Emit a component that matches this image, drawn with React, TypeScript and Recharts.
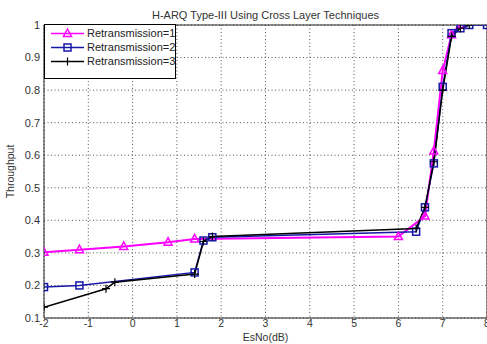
import React from 'react';
import { LineChart, Line, XAxis, YAxis, CartesianGrid, ReferenceLine, Legend } from 'recharts';

const snr1 = [-2, -1.2, -0.2, 0.8, 1.4, 6.0, 6.6, 6.8, 7.0, 7.2, 7.4];
const thr1 = [0.302, 0.31, 0.32, 0.333, 0.343, 0.35, 0.413, 0.613, 0.86, 0.97, 1.0];

const snr2 = [-2, -1.2, 1.4, 1.6, 1.8, 6.4, 6.6, 6.8, 7.0, 7.2, 7.4, 7.6, 8.0];
const thr2 = [0.195, 0.2, 0.24, 0.338, 0.348, 0.365, 0.44, 0.575, 0.81, 0.975, 0.99, 1.0, 1.0];

const snr3 = [-2, -0.6, -0.4, 1.4, 1.6, 1.8, 6.4, 6.6, 6.8, 7.0, 7.2, 7.4, 7.6];
const thr3 = [0.133, 0.19, 0.21, 0.235, 0.335, 0.35, 0.375, 0.44, 0.58, 0.8, 0.965, 0.99, 1.0];

const xTicks = [-2, -1, 0, 1, 2, 3, 4, 5, 6, 7, 8];
const yTicks = [0.1, 0.2, 0.3, 0.4, 0.5, 0.6, 0.7, 0.8, 0.9, 1];

const seriesNames = ['Retransmission=1', 'Retransmission=2', 'Retransmission=3'];
const title = 'H-ARQ Type-III Using Cross Layer Techniques';

const zip = (xs: number[], ys: number[]) => xs.map((x, i) => ({ x, y: ys[i] }));
const data1 = zip(snr1, thr1);
const data2 = zip(snr2, thr2);
const data3 = zip(snr3, thr3);

const MAG = '#ff00ff';
const BLUE = '#1818a8';
const BLK = '#000000';
const FONT = '"Liberation Sans", Arial, sans-serif';

const Tri = (props: any) => {
  const { cx, cy } = props;
  if (cx == null || cy == null) return null;
  return <path d={`M${cx},${cy - 4.5} L${cx + 4},${cy + 3} L${cx - 4},${cy + 3} Z`} fill="none" stroke={MAG} strokeWidth={1.5} />;
};
const Sq = (props: any) => {
  const { cx, cy } = props;
  if (cx == null || cy == null) return null;
  return <rect x={cx - 3.5} y={cy - 3.5} width={7} height={7} fill="none" stroke={BLUE} strokeWidth={1.5} />;
};
const Plus = (props: any) => {
  const { cx, cy } = props;
  if (cx == null || cy == null) return null;
  return <path d={`M${cx - 4},${cy} L${cx + 4},${cy} M${cx},${cy - 4} L${cx},${cy + 4}`} stroke={BLK} strokeWidth={1.2} />;
};

const LegendBox = () => {
  const colors = [MAG, BLUE, BLK];
  const markers = [
    (cx: number, cy: number) => <path d={`M${cx},${cy - 4.5} L${cx + 4},${cy + 3} L${cx - 4},${cy + 3} Z`} fill="none" stroke={MAG} strokeWidth={1.5} />,
    (cx: number, cy: number) => <rect x={cx - 3.5} y={cy - 3.5} width={7} height={7} fill="none" stroke={BLUE} strokeWidth={1.5} />,
    (cx: number, cy: number) => <path d={`M${cx - 4},${cy} L${cx + 4},${cy} M${cx},${cy - 4} L${cx},${cy + 4}`} stroke={BLK} strokeWidth={1.2} />,
  ];
  return (
    <svg width={132} height={55} style={{ display: 'block' }}>
      <rect x={0.5} y={0.5} width={131} height={54} fill="#fff" stroke="#000" strokeWidth={1} />
      {seriesNames.map((n, i) => {
        const cy = 9.5 + i * 14;
        return (
          <g key={n}>
            <line x1={7} x2={40} y1={cy} y2={cy} stroke={colors[i]} strokeWidth={1.5} />
            {markers[i](23.5, cy)}
            <text x={43} y={cy} dy="0.35em" fontSize={11} fontFamily={FONT} fill="#222">{n}</text>
          </g>
        );
      })}
    </svg>
  );
};

export default function App() {
  return (
    <div style={{ position: 'absolute', left: 0, top: 0, width: 487, height: 344, overflow: 'hidden', background: '#fff' }}>
      <div style={{ position: 'absolute', left: 44, width: 443, top: 8, textAlign: 'center', fontFamily: FONT, fontSize: 11, color: '#333', lineHeight: '14px' }}>
        {title}
      </div>
      <LineChart width={500} height={344} margin={{ top: 25, right: 13, bottom: 0, left: 0 }} style={{ fontFamily: FONT }}>
        <CartesianGrid stroke="#555" strokeDasharray="1 2.5" />
        <XAxis
          type="number"
          dataKey="x"
          domain={[-2, 8]}
          ticks={xTicks}
          allowDataOverflow
          height={26}
          tickSize={0}
          tickMargin={2}
          tick={{ fontSize: 10.5, fill: '#333' }}
          axisLine={{ stroke: '#222' }}
          label={{ value: 'EsNo(dB)', position: 'insideBottom', offset: 3, fontSize: 10.5, fill: '#333' }}
        />
        <YAxis
          type="number"
          dataKey="y"
          domain={[0.1, 1]}
          ticks={yTicks}
          allowDataOverflow
          width={44}
          tickSize={0}
          tickMargin={4}
          tick={{ fontSize: 11, fill: '#333' }}
          tickFormatter={(v: number) => (v === 1 ? '1' : String(Math.round(v * 10) / 10))}
          axisLine={{ stroke: '#222' }}
          label={{ value: 'Throughput', angle: -90, position: 'insideLeft', offset: 10, fontSize: 10.5, fill: '#333', style: { textAnchor: 'middle' } }}
        />
        <ReferenceLine y={1} stroke="#222" />
        <ReferenceLine x={8} stroke="#222" />
        <Legend
          layout="horizontal"
          verticalAlign="middle"
          align="center"
          wrapperStyle={{ position: 'absolute', left: 44, top: 24, width: 132, height: 55 }}
          content={() => <LegendBox />}
        />
        <Line data={data1} dataKey="y" name={seriesNames[0]} stroke={MAG} strokeWidth={2} dot={<Tri />} isAnimationActive={false} type="linear" />
        <Line data={data2} dataKey="y" name={seriesNames[1]} stroke={BLUE} strokeWidth={1.5} dot={<Sq />} isAnimationActive={false} type="linear" />
        <Line data={data3} dataKey="y" name={seriesNames[2]} stroke={BLK} strokeWidth={1.5} dot={<Plus />} isAnimationActive={false} type="linear" />
      </LineChart>
    </div>
  );
}
